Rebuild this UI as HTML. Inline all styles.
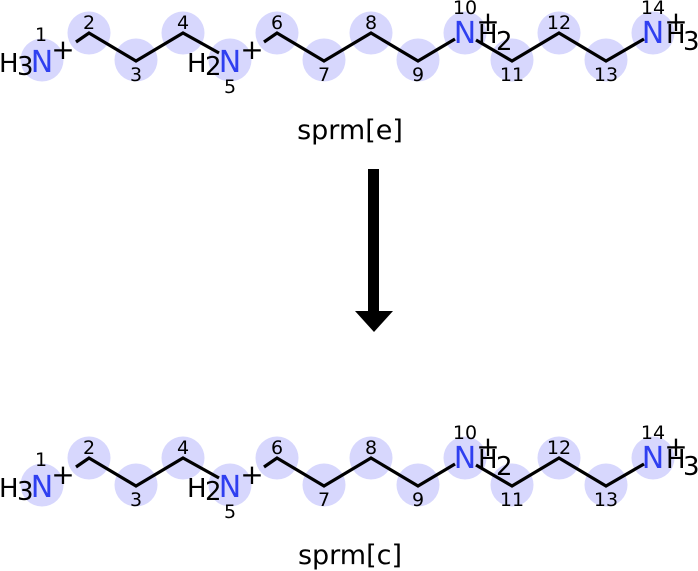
<!DOCTYPE html>
<html><head><meta charset="utf-8"><style>
html,body{margin:0;padding:0;background:#fff;}
svg{display:block;font-family:"DejaVu Sans","Liberation Sans",sans-serif;}
</style></head><body>
<svg width="698" height="571" viewBox="0 0 698 571" xmlns="http://www.w3.org/2000/svg">
<defs>
<g id="mol">
  <g fill="#d7d7fd">
    <circle cx="42" cy="60" r="21.5"/>
    <circle cx="89" cy="33" r="21.5"/>
    <circle cx="136" cy="60" r="21.5"/>
    <circle cx="183" cy="33" r="21.5"/>
    <circle cx="230" cy="60" r="21.5"/>
    <circle cx="277" cy="33" r="21.5"/>
    <circle cx="324" cy="60" r="21.5"/>
    <circle cx="371" cy="33" r="21.5"/>
    <circle cx="418" cy="60" r="21.5"/>
    <circle cx="465" cy="33" r="21.5"/>
    <circle cx="512" cy="60" r="21.5"/>
    <circle cx="559" cy="33" r="21.5"/>
    <circle cx="606" cy="60" r="21.5"/>
    <circle cx="653" cy="33" r="21.5"/>
  </g>
  <g fill="none" stroke="#000" stroke-width="3.2" stroke-linejoin="miter">
    <polyline points="76,42 89,33 136,61 183,33 219,53"/>
    <polyline points="264,42 277,33 324,61 371,33 418,61 455,39"/>
    <polyline points="476,40 512,61 559,33 606,61 644,39"/>
  </g>
  <g fill="#000" font-size="26">
    <text x="-1" y="72">H</text>
    <text x="17" y="75">3</text>
    <text x="187" y="72">H</text>
    <text x="205" y="75">2</text>
    <text x="478" y="43">H</text>
    <text x="496" y="50">2</text>
    <text x="666" y="43">H</text>
    <text x="683" y="50">3</text>
  </g>
  <g fill="#000" font-size="28" text-anchor="middle">
    <text x="63" y="59">+</text>
    <text x="252" y="59">+</text>
    <text x="488" y="31">+</text>
    <text x="676" y="31">+</text>
  </g>
  <g fill="#2f3ff0" font-size="30" text-anchor="middle">
    <text x="42" y="72">N</text>
    <text x="230" y="72">N</text>
    <text x="465" y="43">N</text>
    <text x="653" y="43">N</text>
  </g>
  <g fill="#000" font-size="19" text-anchor="middle">
    <text x="41" y="41">1</text>
    <text x="89" y="29">2</text>
    <text x="136" y="81">3</text>
    <text x="183" y="29">4</text>
    <text x="230" y="93">5</text>
    <text x="277" y="29">6</text>
    <text x="324" y="81">7</text>
    <text x="371" y="29">8</text>
    <text x="418" y="81">9</text>
    <text x="465" y="14">10</text>
    <text x="512" y="81">11</text>
    <text x="559" y="29">12</text>
    <text x="606" y="81">13</text>
    <text x="653" y="14">14</text>
  </g>
</g>
</defs>
<use href="#mol"/>
<text x="350" y="139" font-size="27" text-anchor="middle">sprm[e]</text>
<rect x="368" y="169" width="11" height="142" fill="#000"/>
<polygon points="355,311 393,311 374,332" fill="#000"/>
<use href="#mol" transform="translate(0,425)"/>
<text x="350" y="564" font-size="27" text-anchor="middle">sprm[c]</text>
</svg>
</body></html>
